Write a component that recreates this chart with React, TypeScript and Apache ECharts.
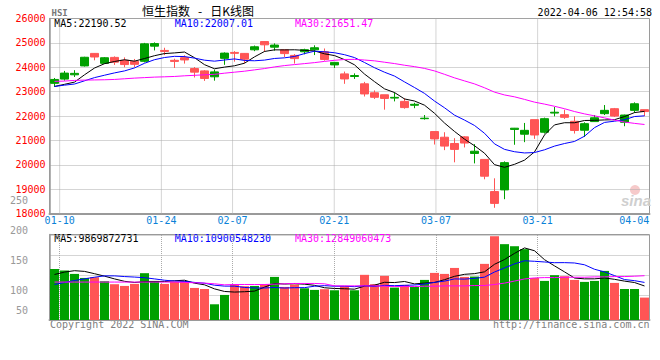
import React, { useEffect, useRef } from "react";
import * as echarts from "echarts";

// ---------- data ----------
const dates = [
  "01-07","01-10","01-11","01-12","01-13","01-14","01-17","01-18","01-19","01-20",
  "01-21","01-24","01-25","01-26","01-27","01-28","01-31","02-04","02-07","02-08",
  "02-09","02-10","02-11","02-14","02-15","02-16","02-17","02-18","02-21","02-22",
  "02-23","02-24","02-25","02-28","03-01","03-02","03-03","03-04","03-07","03-08",
  "03-09","03-10","03-11","03-14","03-15","03-16","03-17","03-18","03-21","03-22",
  "03-23","03-24","03-25","03-28","03-29","03-30","03-31","04-01","04-04","04-06",
];
const openP = [
  23340,23514,23690,24054,24568,24160,24405,24284,24243,24243,
  24865,24690,24284,24392,23946,23851,23608,24365,24608,24568,
  24716,25054,24824,24716,24486,24635,24716,24635,24095,23728,
  23620,23320,22953,22871,22735,22600,22440,21890,21362,21130,
  20872,21144,20464,20219,18900,18968,21450,21253,21851,21334,
  22120,22055,21783,21416,21770,22096,22300,21742,22232,22259,
];
const closeP = [
  23500,23760,23750,24410,24420,24390,24210,24110,24120,24960,
  24970,24650,24240,24300,23800,23540,23810,24580,24570,24330,
  24840,24920,24910,24560,24355,24720,24800,24320,24200,23520,
  23660,22905,22767,22720,22765,22345,22480,21910,21060,20765,
  20630,20890,20555,19530,18415,20087,21500,21412,21221,21890,
  22154,21945,21405,21685,21928,22232,21997,22040,22502,22182,
];
const lowP = [
  23200,23450,23600,24030,24284,24150,24095,24000,24000,24200,
  24690,24500,23970,24150,23580,23440,23450,24100,24230,24170,
  24660,24630,24680,24420,24150,24530,24500,24270,23970,23320,
  23520,22800,22700,22260,22600,22300,22320,21850,20830,20600,
  20100,20710,20056,19403,18234,18587,20820,20926,21062,21280,
  21987,21880,21280,21140,21760,22040,21960,21580,22130,22000,
];
const highP = [
  23560,23850,23880,24430,24580,24420,24446,24405,24340,25000,
  25020,24800,24350,24490,24010,23880,23900,24610,24660,24580,
  24890,25060,24980,24720,24540,24760,24900,24770,24210,23823,
  23750,23400,23050,22871,22966,22730,22540,22040,21362,21334,
  21090,21170,20845,20219,19444,20138,21510,21715,21851,21933,
  22368,22260,21987,21742,22040,22450,22330,22055,22560,22259,
];
const ma5 = [
  23210,23300,23390,23690,23968,24146,24236,24308,24250,24358,
  24474,24562,24588,24624,24392,24106,23938,24006,24060,24166,
  24426,24648,24714,24712,24717,24693,24669,24551,24479,24312,
  24100,23721,23410,23114,22963,22700,22615,22444,22112,21712,
  21367,21051,20780,20474,20004,19895,20017,20189,20527,21222,
  21635,21724,21723,21816,21823,21839,21849,21976,22140,22190.52,
];
const ma10 = [
  23213,23266,23312,23443,23575,23673,23768,23850,23972,24163,
  24310,24399,24448,24437,24375,24290,24250,24297,24342,24279,
  24266,24293,24360,24386,24442,24560,24659,24633,24596,24515,
  24397,24195,23981,23797,23638,23400,23168,22927,22613,22338,
  22035,21833,21612,21292,20857,20631,20534,20484,20501,20613,
  20765,20871,20956,21171,21523,21737,21787,21850,21978,22007.01,
];
const ma30 = [
  23419,23433,23460,23473,23480,23487,23500,23527,23554,23575,
  23595,23608,23622,23649,23669,23690,23710,23757,23798,23838,
  23892,23946,24014,24068,24109,24149,24190,24240,24285,24319,
  24324,24296,24263,24207,24151,24083,24025,23952,23850,23710,
  23565,23440,23317,23158,22979,22864,22787,22681,22569,22488,
  22399,22299,22183,22087,22006,21923,21829,21753,21697,21651.47,
];
// volume in 1e8
const volume = [
  148,143.6,133.7,122,124,112.5,103.8,98.8,104.7,135.8,
  113.4,104.7,110.5,112.5,93,90,45.6,72.7,103.8,98,
  98.8,103.8,125,96,102.8,92,87.3,89.3,86.3,98,
  86.3,131,103.8,128,94,101.8,96,116.3,136.6,133.7,
  151,125,126,162.8,243,220,214,205.5,122,113.4,
  130,127,116.3,110.5,113.4,142.4,107.6,90,90,65,
];
const volMa5 = [
  132,139,143,141,134.3,127.2,119.2,112.2,108.8,111.1,
  111.3,111.5,113.8,115.4,106.8,102.1,90.3,82.8,81.0,82.0,
  83.8,95.4,105.9,104.3,105.3,103.9,100.6,93.5,91.5,90.6,
  89.4,98.2,101.1,109.4,108.6,111.7,104.7,107.2,108.9,116.9,
  126.7,132.5,134.5,139.7,161.6,175.4,193.2,209.1,200.9,175.0,
  157.0,139.6,121.7,119.4,119.4,121.9,118.0,112.8,108.7,98.7,
];
const volMa10 = [
  103,108.7,114.5,119.3,124.1,128,128,126,124.5,122.7,
  119.2,115.3,113.0,112.1,109.0,106.7,100.9,98.3,98.2,94.4,
  93.0,92.9,94.3,92.7,93.7,93.9,98.0,99.7,97.9,97.9,
  96.7,99.4,97.3,100.5,99.6,100.6,101.5,104.2,109.2,112.8,
  119.2,118.6,120.8,124.3,139.2,151.0,162.8,171.8,170.3,168.3,
  166.2,166.4,165.4,160.2,147.2,139.5,128.8,117.3,114.1,109.0,
];
const volMa30 = [
  110,110,110,110,110,110,110,110,110,110,
  110,110,110,109,108,107,105,102,103,103,
  103,103,104,105,106,106,106,105,99,99,
  99,99,99,98,97,97,97,98,98,99,
  99,99,100,100,103,107,113,119,122,123,
  123,124,124,124,125,125,126,126,127,128.5,
];

const xTickLabels = ["01-10", "01-24", "02-07", "02-21", "03-07", "03-21", "04-04"];
const xGridLabels = ["01-10", "01-24", "02-07", "02-21", "03-07", "03-21"];
const priceMin = 18000;
const priceMax = 26000;
const priceStep = 1000;
const volTickLabels = [250, 200, 150, 100, 50];
const priceLegend = ["MA5:22190.52", "MA10:22007.01", "MA30:21651.47"];
const volLegend = ["MA5:9869872731", "MA10:10900548230", "MA30:12849060473"];
const symbolText = "HSI";
const titleText = "恒生指数   -   日K线图";
const timeText = "2022-04-06 12:54:58";
const copyText = "Copyright 2022 SINA.COM";
const urlText = "http://finance.sina.com.cn";

// ---------- styles ----------
const GREEN = "#00a000";
const RED = "#ff5555";
const MA_COLORS = ["#000000", "#0000ff", "#ff00ff"];
const MONO = "DejaVu Sans Mono";
const GRID_COLOR = "#aaaaaa";
const BORDER = "#9a9a9a";
const MAIN_TOP = 18.5;
const MAIN_H = 195;
const VOL_TOP = 234.5;
const VOL_H = 85.5;

const labelIdx = xTickLabels.map((d) => dates.indexOf(d));
const gridIdx = xGridLabels.map((d) => dates.indexOf(d));

// value axis used only for vertical dotted grid lines of the volume panel (inside ticks)
const vGridAxis = (gridIndex: number, h: number) => ({
  type: "value",
  gridIndex,
  position: "bottom",
  min: 0,
  max: dates.length - 1,
  axisLine: { show: false, onZero: false },
  axisTick: {
    show: true,
    customValues: gridIdx,
    inside: true,
    length: h,
    lineStyle: { color: GRID_COLOR, type: "dotted", width: 1 },
  },
  splitLine: { show: false },
  axisLabel: { show: false },
});

// value axis for the date labels and the bottom axis line
const labelAxis = (gridIndex: number, withLabels: boolean) => ({
  type: "value",
  gridIndex,
  position: "bottom",
  min: 0,
  max: dates.length - 1,
  axisLine: { show: true, onZero: false, lineStyle: { color: BORDER, width: 2 } },
  axisTick: { show: false },
  splitLine: { show: false },
  axisLabel: withLabels
    ? {
        show: true,
        customValues: labelIdx,
        margin: 2,
        color: "#0a82d8",
        fontFamily: MONO,
        fontSize: 10,
        formatter: (v: number) => {
          const i = Math.round(v);
          return i === labelIdx[labelIdx.length - 1] ? `{r|${dates[i]}}` : dates[i];
        },
        rich: {
          r: { padding: [0, 10, 0, 0], color: "#0a82d8", fontFamily: MONO, fontSize: 10 },
        },
      }
    : { show: false },
});

const catAxis = (gridIndex: number) => ({
  type: "category",
  gridIndex,
  data: dates,
  boundaryGap: true,
  show: false,
});

const lineSeries = (name: string, data: number[], color: string, xi: number, yi: number) => ({
  name,
  type: "line",
  xAxisIndex: xi,
  yAxisIndex: yi,
  data,
  symbol: "none",
  showSymbol: false,
  lineStyle: { color, width: 1 },
  z: 3,
});

// vertical dotted grid lines of the price panel, as two-point line series on its value x axis
const vGridSeries = gridIdx.map((v) => ({
  type: "line",
  xAxisIndex: 1,
  yAxisIndex: 0,
  silent: true,
  symbol: "none",
  showSymbol: false,
  data: [
    [v, priceMin],
    [v, priceMax],
  ],
  lineStyle: { color: GRID_COLOR, type: "dotted", width: 1 },
  z: 1,
}));

const txt = (text: string, x: number, y: number, fill: string, font: string, align = "left") => ({
  type: "text",
  x,
  y,
  style: { text, fill, font, align, verticalAlign: "middle" },
  silent: true,
});

export default function App() {
  const ref = useRef<HTMLDivElement>(null);
  useEffect(() => {
    const chart = echarts.init(ref.current!, null, { renderer: "svg" });
    const option: any = {
      animation: false,
      backgroundColor: "#ffffff",
      grid: [
        { left: 49.5, width: 600, top: MAIN_TOP, height: MAIN_H, show: true, borderColor: BORDER, borderWidth: 1 },
        { left: 49.5, width: 600, top: VOL_TOP, height: VOL_H, show: true, borderColor: BORDER, borderWidth: 1 },
        { left: 49.5, width: 600, top: 235.7, height: 60 },
        { left: 49.5, width: 600, top: 200.5, height: 150 },
        { left: 49.5, width: 600, top: VOL_TOP, height: VOL_H },
      ],
      xAxis: [
        catAxis(0),
        labelAxis(0, true),
        catAxis(1),
        labelAxis(1, false),
        { type: "value", gridIndex: 2, min: 0, max: 1, show: false },
        { type: "value", gridIndex: 3, min: 0, max: 1, show: false },
        vGridAxis(4, VOL_H),
      ],
      yAxis: [
        {
          type: "value",
          gridIndex: 0,
          min: priceMin,
          max: priceMax,
          interval: priceStep,
          axisLine: { show: true, lineStyle: { color: BORDER, width: 1.5 } },
          axisTick: { show: false },
          axisLabel: {
            color: "#ff0000",
            fontFamily: MONO,
            fontSize: 10,
            margin: 4,
            padding: [0, 0, 3, 0],
            formatter: (v: number) => String(v),
          },
          splitLine: { show: true, lineStyle: { color: GRID_COLOR, type: "dotted" } },
        },
        {
          type: "value",
          gridIndex: 1,
          min: 0,
          max: 248,
          axisLine: { show: true, lineStyle: { color: BORDER, width: 1.5 } },
          axisTick: { show: false },
          axisLabel: { show: false },
          splitLine: { show: false },
        },
        {
          type: "value",
          gridIndex: 2,
          min: 0,
          max: 3,
          interval: 1,
          axisLine: { show: false },
          axisTick: { show: false },
          axisLabel: { show: false },
          splitLine: { show: true, lineStyle: { color: GRID_COLOR, type: "dotted" } },
        },
        {
          type: "value",
          gridIndex: 3,
          min: 0,
          max: 250,
          interval: 50,
          axisLine: { show: false },
          axisTick: { show: false },
          splitLine: { show: false },
          axisLabel: {
            showMinLabel: false,
            margin: 21.5,
            color: "#999999",
            fontFamily: MONO,
            fontSize: 10,
            formatter: (v: number) => {
              if (!volTickLabels.includes(v)) return "";
              return v === volTickLabels[volTickLabels.length - 1] ? `{up|${v}}` : String(v);
            },
            rich: { up: { padding: [0, 0, 20, 0], color: "#999999", fontFamily: MONO, fontSize: 10 } },
          },
        },
        { type: "value", gridIndex: 4, min: 0, max: 1, show: false },
      ],
      series: [
        ...vGridSeries,
        {
          type: "candlestick",
          xAxisIndex: 0,
          yAxisIndex: 0,
          barWidth: 9,
          data: dates.map((_, i) => [openP[i], closeP[i], lowP[i], highP[i]]),
          itemStyle: { color: GREEN, color0: RED, borderColor: GREEN, borderColor0: RED, borderWidth: 1 },
          z: 2,
        },
        lineSeries("MA5", ma5, MA_COLORS[0], 0, 0),
        lineSeries("MA10", ma10, MA_COLORS[1], 0, 0),
        lineSeries("MA30", ma30, MA_COLORS[2], 0, 0),
        {
          type: "bar",
          xAxisIndex: 2,
          yAxisIndex: 1,
          barWidth: 9,
          data: volume,
          itemStyle: {
            color: (p: any) => (closeP[p.dataIndex] >= openP[p.dataIndex] ? GREEN : RED),
          },
          z: 2,
        },
        lineSeries("VMA5", volMa5, MA_COLORS[0], 2, 1),
        lineSeries("VMA10", volMa10, MA_COLORS[1], 2, 1),
        lineSeries("VMA30", volMa30, MA_COLORS[2], 2, 1),
      ],
      graphic: [
        { type: "circle", shape: { cx: 635, cy: 190, r: 5 }, style: { fill: "#f6caca" }, silent: true, z: 0 },
        txt("sina", 636, 200, "#cfcfcf", "italic bold 15px Liberation Sans", "center"),
        txt(symbolText, 51.5, 12.7, "#777777", `bold 9px ${MONO}`),
        txt(titleText, 142, 10.5, "#000000", "12px Noto Sans CJK SC"),
        txt(timeText, 652, 12.5, "#000000", `10px ${MONO}`, "right"),
        txt(priceLegend[0], 54.3, 23.7, MA_COLORS[0], `10px ${MONO}`),
        txt(priceLegend[1], 174.7, 23.7, MA_COLORS[1], `10px ${MONO}`),
        txt(priceLegend[2], 295, 23.7, MA_COLORS[2], `10px ${MONO}`),
        txt(volLegend[0], 54.3, 238.7, MA_COLORS[0], `10px ${MONO}`),
        txt(volLegend[1], 174.7, 238.7, MA_COLORS[1], `10px ${MONO}`),
        txt(volLegend[2], 295, 238.7, MA_COLORS[2], `10px ${MONO}`),
        txt(copyText, 50, 324.5, "#808080", `10px ${MONO}`),
        txt(urlText, 649.5, 324.5, "#808080", `10px ${MONO}`, "right"),
      ],
    };
    chart.setOption(option);
    return () => chart.dispose();
  }, []);
  return (
    <div
      ref={ref}
      style={{ position: "fixed", left: 0, top: 0, width: 660, height: 360, background: "#fff" }}
    />
  );
}
